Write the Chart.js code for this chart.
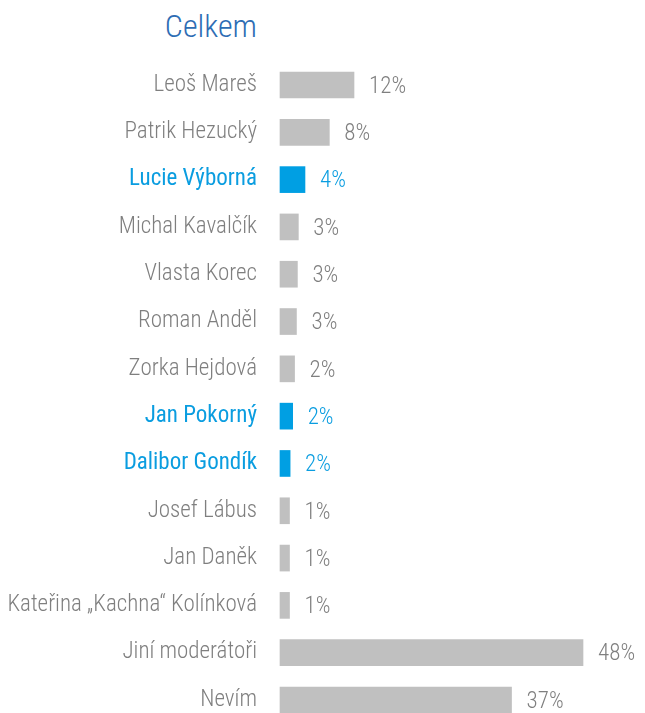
<!DOCTYPE html>
<html>
<head>
<meta charset="utf-8">
<script src="https://cdn.jsdelivr.net/npm/chart.js@4"></script>
<style>
  body { margin: 0; background: #fff; overflow: hidden; }
  #wrap { position: relative; width: 645px; height: 713px; overflow: hidden; }
  #title {
    position: absolute; left: 0; top: 7px; width: 257px; text-align: right;
    font-family: "Roboto Condensed", "DejaVu Sans Condensed", sans-serif;
    font-size: 32px; font-weight: 300; color: #2e6db4;
  }
  canvas { position: absolute; left: 0; top: 0; }
</style>
</head>
<body>
<div id="wrap">
  <div id="title">Celkem</div>
  <canvas id="chart" width="645" height="760"></canvas>
</div>
<script>
const names = ['Leoš Mareš', 'Patrik Hezucký', 'Lucie Výborná', 'Michal Kavalčík', 'Vlasta Korec',
  'Roman Anděl', 'Zorka Hejdová', 'Jan Pokorný', 'Dalibor Gondík', 'Josef Lábus', 'Jan Daněk',
  'Kateřina „Kachna“ Kolínková', 'Jiní moderátoři', 'Nevím'];
const values = [11.7, 7.8, 3.95, 2.9, 2.75, 2.6, 2.3, 2.0, 1.6, 1.5, 1.5, 1.5, 47.9, 36.6];
const valueLabels = ['12%', '8%', '4%', '3%', '3%', '3%', '2%', '2%', '2%', '1%', '1%', '1%', '48%', '37%'];
const highlighted = ['Lucie Výborná', 'Jan Pokorný', 'Dalibor Gondík'];

const FONT = '"Roboto Condensed", "DejaVu Sans Condensed", sans-serif';
const GREY = '#c0c0c0';
const BLUE = '#009fe3';
const TEXT_GREY = '#7f7f7f';
const TEXT_BLUE = '#0a9de0';

const isHi = (i) => highlighted.includes(names[i]);

// percentage next to each bar
const valueLabelPlugin = {
  id: 'valueLabels',
  afterDatasetsDraw(chart) {
    const ctx = chart.ctx;
    const meta = chart.getDatasetMeta(0);
    ctx.save();
    ctx.font = '300 23px ' + FONT;
    ctx.textAlign = 'left';
    ctx.textBaseline = 'middle';
    meta.data.forEach((bar, i) => {
      ctx.fillStyle = isHi(i) ? TEXT_BLUE : TEXT_GREY;
      ctx.fillText(valueLabels[i], bar.x + 15, bar.y + 2);
    });
    ctx.restore();
  }
};

new Chart(document.getElementById('chart'), {
  type: 'bar',
  data: {
    labels: names,
    datasets: [{
      data: values,
      backgroundColor: names.map((n, i) => isHi(i) ? BLUE : GREY),
      barThickness: 26,
      clip: false
    }]
  },
  options: {
    indexAxis: 'y',
    responsive: false,
    animation: false,
    layout: { padding: { top: 85, bottom: 60, right: 0, left: 0 } },
    plugins: { legend: { display: false }, tooltip: { enabled: false } },
    scales: {
      x: { display: false, min: 0, max: 57.7 },
      y: {
        offset: false,
        grid: { display: false, drawTicks: false },
        border: { display: false },
        afterFit(scale) { scale.width = 280; },
        ticks: {
          padding: 23,
          color: (c) => isHi(c.index) ? TEXT_BLUE : TEXT_GREY,
          font: (c) => ({ family: FONT, size: 23, weight: isHi(c.index) ? 'normal' : 300 })
        }
      }
    }
  },
  plugins: [valueLabelPlugin]
});
</script>
</body>
</html>
